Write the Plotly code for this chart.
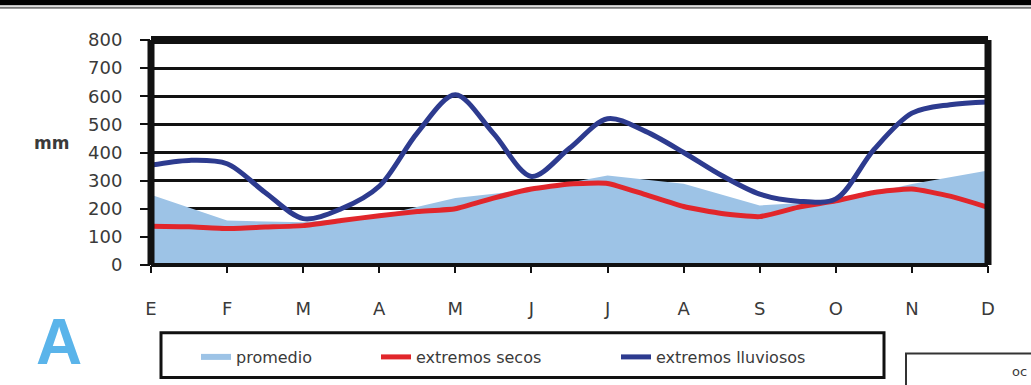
import plotly.graph_objects as go

# Monthly labels (Spanish initials)
meses = ["E", "F", "M", "A", "M", "J", "J", "A", "S", "O", "N", "D"]

# Average monthly rainfall (mm)
promedio = [250, 158, 152, 175, 238, 268, 318, 289, 212, 228, 288, 336]

# Half-month positions (in month units) for the extreme series
quincenas = [0, 0.5, 1, 1.5, 2, 2.5, 3, 3.5, 4, 4.5, 5, 5.5,
             6, 6.5, 7, 7.5, 8, 8.5, 9, 9.5, 10, 10.5, 11]

# Dry extremes (mm)
extremos_secos = [138, 136, 130, 135, 140, 158, 175, 190, 200, 238, 270, 288,
                  290, 250, 208, 183, 172, 205, 228, 258, 270, 245, 205]

# Wet extremes (mm)
extremos_lluviosos = [355, 372, 360, 258, 165, 200, 280, 470, 605, 468, 315, 415,
                      520, 475, 400, 318, 252, 227, 235, 410, 540, 570, 580]

W, H = 1031, 385
L, R, T, B = 151, 988, 40, 266


def px(x):
    return (x - L) / (R - L)


def py(y):
    return (B - y) / (B - T)


FONT = "DejaVu Sans"
GRIS = "#3a3a3a"
AZUL_CLARO = "#9dc3e6"
ROJO = "#e1262b"
AZUL = "#2d3b8f"

fig = go.Figure()

# Average as a filled area
fig.add_trace(go.Scatter(
    x=list(range(len(meses))), y=promedio, mode="lines",
    line=dict(width=0, color=AZUL_CLARO), fill="tozeroy",
    fillcolor=AZUL_CLARO, showlegend=False, hoverinfo="skip",
))
# Legend proxy for the average
fig.add_trace(go.Scatter(
    x=[None], y=[None], mode="lines", name="promedio",
    line=dict(width=6, color=AZUL_CLARO), legend="legend",
))
fig.add_trace(go.Scatter(
    x=quincenas, y=extremos_secos, mode="lines", name="extremos secos",
    line=dict(width=5, color=ROJO, shape="spline", smoothing=0.5),
    legend="legend2",
))
fig.add_trace(go.Scatter(
    x=quincenas, y=extremos_lluviosos, mode="lines", name="extremos lluviosos",
    line=dict(width=5, color=AZUL, shape="spline", smoothing=0.9),
    legend="legend3",
))

leg_common = dict(orientation="h", yanchor="middle", y=py(357), xanchor="left",
                  bgcolor="rgba(0,0,0,0)", borderwidth=0,
                  font=dict(family=FONT, size=16, color=GRIS))

shapes = [
    # frame around the plotting area
    dict(type="line", xref="paper", yref="paper", x0=0, x1=1, y0=1, y1=1,
         line=dict(color="#111", width=8), layer="above"),
    dict(type="line", xref="paper", yref="paper", x0=0, x1=0, y0=0, y1=1,
         line=dict(color="#111", width=7), layer="above"),
    dict(type="line", xref="paper", yref="paper", x0=1, x1=1, y0=0, y1=1,
         line=dict(color="#111", width=7), layer="above"),
    dict(type="line", xref="paper", yref="paper", x0=0, x1=1, y0=0, y1=0,
         line=dict(color="#111", width=4), layer="above"),
    # legend box
    dict(type="rect", xref="paper", yref="paper", x0=px(161), x1=px(884),
         y0=py(379), y1=py(334), line=dict(color="#111", width=3)),
    # page rules at the top
    dict(type="rect", xref="paper", yref="paper", x0=px(-5), x1=px(W + 5),
         y0=py(5), y1=py(-5), line=dict(width=0), fillcolor="#000"),
    dict(type="line", xref="paper", yref="paper", x0=px(-5), x1=px(W + 5),
         y0=py(7.5), y1=py(7.5), line=dict(color="#777", width=2)),
    # neighbouring panel box
    dict(type="rect", xref="paper", yref="paper", x0=px(906), x1=px(W + 10),
         y0=py(H + 10), y1=py(355), line=dict(color="#333", width=2)),
]

annotations = [
    dict(text="<b>mm</b>", x=px(51), y=py(143), xref="paper", yref="paper",
         showarrow=False, font=dict(family=FONT, size=17, color=GRIS),
         xanchor="center", yanchor="middle"),
    dict(text="<b>A</b>", x=px(59), y=py(343), xref="paper", yref="paper",
         showarrow=False,
         font=dict(family="Liberation Sans", size=64, color="#5ab4ea"),
         xanchor="center", yanchor="middle"),
    dict(text="oc", x=px(1010), y=py(373), xref="paper", yref="paper",
         showarrow=False, font=dict(family=FONT, size=13, color=GRIS),
         xanchor="left", yanchor="middle"),
]

fig.update_layout(
    width=W, height=H,
    margin=dict(l=L, r=W - R, t=T, b=H - B),
    paper_bgcolor="white", plot_bgcolor="white",
    font=dict(family=FONT, color=GRIS),
    xaxis=dict(range=[0, 11], tickvals=list(range(12)), ticktext=meses,
               showgrid=False, zeroline=False, showline=False,
               ticks="outside", ticklen=7, tickwidth=2, tickcolor="#111",
               ticklabelstandoff=20,
               tickfont=dict(family=FONT, size=18, color=GRIS)),
    yaxis=dict(range=[0, 800], dtick=100, showgrid=True, gridcolor="#111",
               gridwidth=2.5, zeroline=False, showline=False,
               ticks="outside", ticklen=10, tickwidth=2, tickcolor="#111",
               ticklabelstandoff=14,
               tickfont=dict(family=FONT, size=18, color=GRIS)),
    legend=dict(x=px(196), **leg_common),
    legend2=dict(x=px(376), **leg_common),
    legend3=dict(x=px(616), **leg_common),
    shapes=shapes,
    annotations=annotations,
)

fig.write_html("out.html")
